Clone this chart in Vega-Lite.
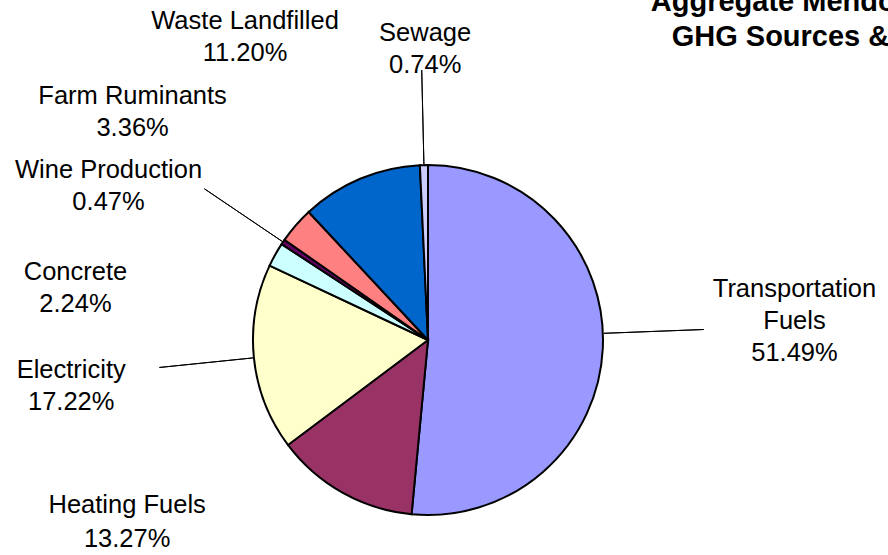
{
  "$schema": "https://vega.github.io/schema/vega-lite/v6.json",
  "width": 856,
  "height": 430,
  "autosize": {"type": "none"},
  "padding": {"left": 0, "top": 125, "right": 32, "bottom": 0},
  "background": "#ffffff",
  "view": {"stroke": null},
  "title": {
    "text": ["Aggregate Mendocino County", "GHG Sources & Emissions"],
    "anchor": "start",
    "frame": "group",
    "align": "center",
    "baseline": "top",
    "offset": -43,
    "dx": 857,
    "font": "Liberation Sans",
    "fontSize": 29,
    "fontWeight": "bold",
    "lineHeight": 35,
    "color": "#000000"
  },
  "data": {
    "values": [
      {"idx": 1, "category": "Transportation Fuels", "value": 51.49, "label": "Transportation\nFuels\n51.49%"},
      {"idx": 2, "category": "Heating Fuels", "value": 13.27, "label": "Heating Fuels\n13.27%"},
      {"idx": 3, "category": "Electricity", "value": 17.22, "label": "Electricity\n17.22%"},
      {"idx": 4, "category": "Concrete", "value": 2.24, "label": "Concrete\n2.24%"},
      {"idx": 5, "category": "Wine Production", "value": 0.47, "label": "Wine Production\n0.47%"},
      {"idx": 6, "category": "Farm Ruminants", "value": 3.36, "label": "Farm Ruminants\n3.36%"},
      {"idx": 7, "category": "Waste Landfilled", "value": 11.20, "label": "Waste Landfilled\n11.20%"},
      {"idx": 8, "category": "Sewage", "value": 0.74, "label": "Sewage\n0.74%"}
    ]
  },
  "transform": [
    {"stack": "value", "groupby": [], "sort": [{"field": "idx", "order": "ascending"}], "as": ["s0", "s1"]}
  ],
  "layer": [
    {
      "mark": {"type": "arc", "outerRadius": 175, "stroke": "#000000", "strokeWidth": 2},
      "encoding": {
        "theta": {"field": "s0", "type": "quantitative", "stack": null, "scale": {"domain": [0, 99.99], "nice": false, "zero": true}},
        "theta2": {"field": "s1"},
        "color": {
          "field": "category",
          "type": "nominal",
          "scale": {
            "domain": ["Transportation Fuels", "Heating Fuels", "Electricity", "Concrete", "Wine Production", "Farm Ruminants", "Waste Landfilled", "Sewage"],
            "range": ["#9999FF", "#993366", "#FFFFCC", "#CCFFFF", "#660066", "#FF8080", "#0066CC", "#CCCCFF"]
          },
          "legend": null
        }
      }
    },
    {
      "transform": [
        {"fold": ["s0", "s1"], "as": ["edge", "pos"]},
        {"aggregate": [{"op": "mean", "field": "pos", "as": "mid"}], "groupby": ["category", "label"]}
      ],
      "encoding": {
        "theta": {"field": "mid", "type": "quantitative", "stack": null}
      },
      "layer": [
        {
          "transform": [{"filter": {"field": "category", "oneOf": ["Electricity", "Wine Production", "Sewage"]}}],
          "mark": {"type": "arc", "radius2": 176, "filled": false, "color": "#000000", "strokeWidth": 1},
          "encoding": {
            "theta2": {"field": "mid"},
            "radius": {"condition": [
              {"test": "datum.category === 'Electricity'", "value": 291},
              {"test": "datum.category === 'Sewage'", "value": 256}
            ], "value": 270}
          }
        },
        {
          "transform": [{"filter": {"field": "category", "equal": "Transportation Fuels"}}],
          "mark": {"type": "arc", "radius2": 176, "radius": 276, "thetaOffset": -0.085, "theta2Offset": -0.085, "filled": false, "color": "#000000", "strokeWidth": 1},
          "encoding": {"theta2": {"field": "mid"}}
        },
        {
          "transform": [{"filter": {"field": "category", "equal": "Transportation Fuels"}}],
          "mark": {"type": "text", "radius": 370, "thetaOffset": -0.185, "align": "center", "baseline": "middle", "lineBreak": "\n", "lineHeight": 32, "font": "Liberation Sans", "fontSize": 25.5, "color": "#000000"},
          "encoding": {"text": {"field": "label", "type": "nominal"}}
        },
        {
          "transform": [{"filter": {"field": "category", "equal": "Heating Fuels"}}],
          "mark": {"type": "text", "radius": 343, "thetaOffset": 0.559, "align": "center", "baseline": "middle", "lineBreak": "\n", "lineHeight": 34, "font": "Liberation Sans", "fontSize": 25.5, "color": "#000000"},
          "encoding": {"text": {"field": "label", "type": "nominal"}}
        },
        {
          "transform": [{"filter": {"field": "category", "equal": "Electricity"}}],
          "mark": {"type": "text", "radius": 358, "thetaOffset": 0.019, "align": "center", "baseline": "middle", "lineBreak": "\n", "lineHeight": 32, "font": "Liberation Sans", "fontSize": 25.5, "color": "#000000"},
          "encoding": {"text": {"field": "label", "type": "nominal"}}
        },
        {
          "transform": [{"filter": {"field": "category", "equal": "Concrete"}}],
          "mark": {"type": "text", "radius": 359, "thetaOffset": -0.319, "align": "center", "baseline": "middle", "lineBreak": "\n", "lineHeight": 32, "font": "Liberation Sans", "fontSize": 25.5, "color": "#000000"},
          "encoding": {"text": {"field": "label", "type": "nominal"}}
        },
        {
          "transform": [{"filter": {"field": "category", "equal": "Wine Production"}}],
          "mark": {"type": "text", "radius": 362, "thetaOffset": -0.105, "align": "center", "baseline": "middle", "lineBreak": "\n", "lineHeight": 32, "font": "Liberation Sans", "fontSize": 25.5, "color": "#000000"},
          "encoding": {"text": {"field": "label", "type": "nominal"}}
        },
        {
          "transform": [{"filter": {"field": "category", "equal": "Farm Ruminants"}}],
          "mark": {"type": "text", "radius": 383, "thetaOffset": -0.025, "align": "center", "baseline": "middle", "lineBreak": "\n", "lineHeight": 32, "font": "Liberation Sans", "fontSize": 25.5, "color": "#000000"},
          "encoding": {"text": {"field": "label", "type": "nominal"}}
        },
        {
          "transform": [{"filter": {"field": "category", "equal": "Waste Landfilled"}}],
          "mark": {"type": "text", "radius": 368, "thetaOffset": -0.122, "align": "center", "baseline": "middle", "lineBreak": "\n", "lineHeight": 32, "font": "Liberation Sans", "fontSize": 25.5, "color": "#000000"},
          "encoding": {"text": {"field": "label", "type": "nominal"}}
        },
        {
          "transform": [{"filter": {"field": "category", "equal": "Sewage"}}],
          "mark": {"type": "text", "radius": 307, "thetaOffset": 0.014, "align": "center", "baseline": "middle", "lineBreak": "\n", "lineHeight": 32, "font": "Liberation Sans", "fontSize": 25.5, "color": "#000000"},
          "encoding": {"text": {"field": "label", "type": "nominal"}}
        }
      ]
    }
  ]
}
